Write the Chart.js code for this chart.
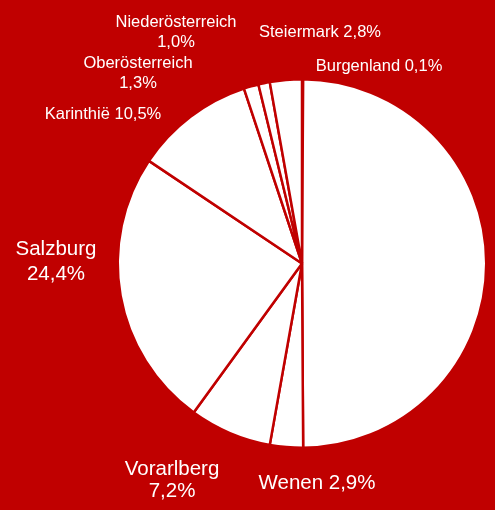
<!DOCTYPE html>
<html>
<head>
<meta charset="utf-8">
<script src="https://cdn.jsdelivr.net/npm/chart.js@4.4.1/dist/chart.umd.min.js"></script>
<style>
  html, body { margin: 0; padding: 0; background: #c00000; }
  canvas { display: block; }
</style>
</head>
<body>
<canvas id="pie" width="495" height="510"></canvas>
<script>
// regions, clockwise from 12 o'clock
var regions = ['Burgenland', 'Tirol', 'Wenen', 'Vorarlberg', 'Salzburg', 'Karinthië', 'Oberösterreich', 'Niederösterreich', 'Steiermark'];
var shares = [0.1, 49.8, 2.9, 7.2, 24.4, 10.5, 1.3, 1.0, 2.8];
// text shown next to each slice (empty = no label), one entry per line
var labelLines = [
  ['Burgenland 0,1%'],
  [],
  ['Wenen 2,9%'],
  ['Vorarlberg', '7,2%'],
  ['Salzburg', '24,4%'],
  ['Karinthië 10,5%'],
  ['Oberösterreich', '1,3%'],
  ['Niederösterreich', '1,0%'],
  ['Steiermark 2,8%']
];

var RED = '#c00000';

// label placement relative to the pie centre: [dx, dy, fontSize, lineGap]
var labelSpots = [
  [77, -197, 16.5, 20],
  null,
  [15, 220, 20.5, 23],
  [-130, 217, 20.5, 22],
  [-246, -2, 20.5, 25],
  [-199, -149, 16.5, 20],
  [-164, -190, 16.5, 20],
  [-126, -231, 16.5, 20],
  [18, -231, 16.5, 20]
];

var outsideLabels = {
  id: 'outsideLabels',
  afterDraw: function(chart) {
    var ctx = chart.ctx;
    var arc = chart.getDatasetMeta(0).data[0];
    var cx = arc.x, cy = arc.y;
    ctx.save();
    ctx.fillStyle = '#ffffff';
    ctx.textAlign = 'center';
    ctx.textBaseline = 'middle';
    labelLines.forEach(function(lines, i) {
      var spot = labelSpots[i];
      if (!spot || !lines.length) return;
      ctx.font = spot[2] + 'px "Liberation Sans", Arial, sans-serif';
      var top = cy + spot[1] - (lines.length - 1) * spot[3] / 2;
      lines.forEach(function(t, j) {
        ctx.fillText(t, cx + spot[0], top + j * spot[3]);
      });
    });
    ctx.restore();
  }
};

var chart = new Chart(document.getElementById('pie'), {
  type: 'pie',
  data: {
    labels: regions,
    datasets: [{
      data: shares,
      backgroundColor: '#ffffff',
      borderColor: RED,
      borderWidth: 2.5
    }]
  },
  options: {
    responsive: false,
    animation: false,
    layout: { padding: { left: 116.5, right: 7.5, top: 78, bottom: 61 } },
    plugins: {
      legend: { display: false },
      tooltip: { enabled: false }
    }
  },
  plugins: [outsideLabels]
});
</script>
</body>
</html>
